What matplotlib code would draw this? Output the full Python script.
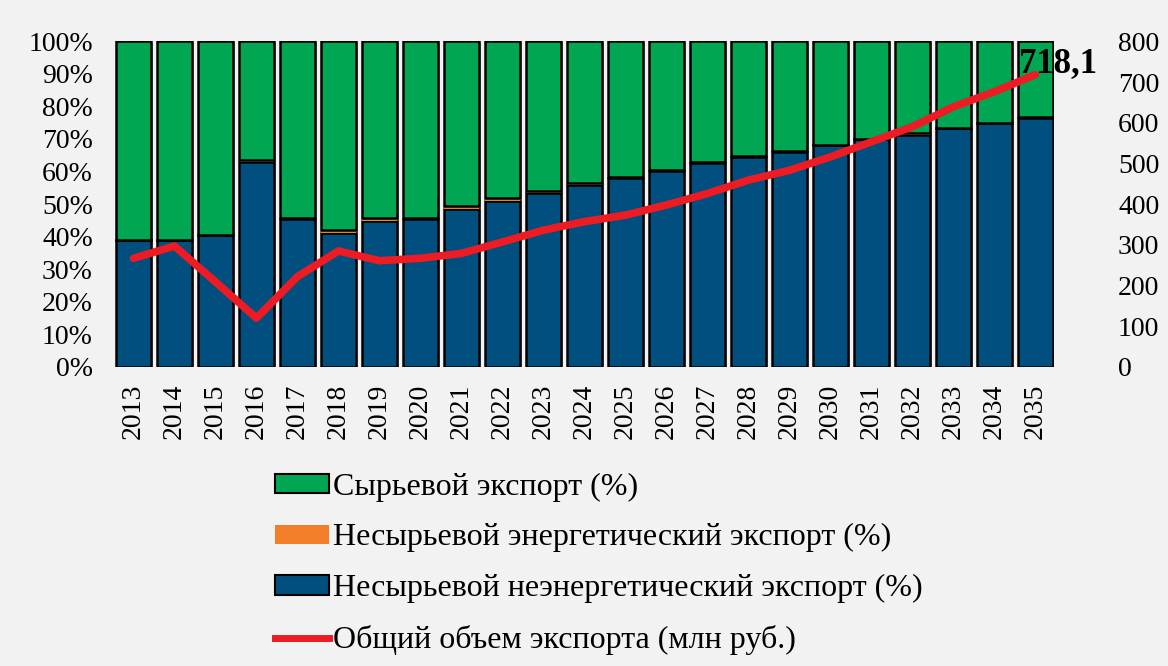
import matplotlib.pyplot as plt
from matplotlib.patches import Patch
from matplotlib.lines import Line2D
import numpy as np

years = [str(y) for y in range(2013, 2036)]
# Несырьевой неэнергетический экспорт, %
non_energy = [39.0, 39.0, 40.5, 63.0, 45.5, 41.2, 44.8, 45.5, 48.6, 50.9, 53.3, 55.8,
              57.9, 60.3, 62.6, 64.6, 66.1, 68.2, 70.0, 71.3, 73.3, 74.8, 76.5]
# Несырьевой энергетический экспорт, %
energy = [0.1, 0.1, 0.1, 0.4, 0.2, 0.8, 1.0, 0.3, 0.8, 0.9, 0.8, 0.7,
          0.3, 0.3, 0.2, 0.2, 0.2, 0.1, 0.1, 0.6, 0.1, 0.1, 0.1]
# Сырьевой экспорт, % (остаток до 100)
raw = [100 - a - b for a, b in zip(non_energy, energy)]
# Общий объем экспорта, млн руб.
total = [267, 297, 209, 120, 222, 285, 261, 267, 279, 307, 336, 357,
         373, 398, 426, 459, 483, 516, 553, 590, 639, 676, 718.1]

GREEN = '#00a651'
ORANGE = '#f47f2a'
BLUE = '#004f7f'
RED = '#ed1c24'
BG = '#f2f2f2'
serif = ['Liberation Serif', 'DejaVu Serif']

fig = plt.figure(figsize=(11.68, 6.66), dpi=100, facecolor=BG)
ax = fig.add_axes([0.0985, 0.449, 0.804, 0.489], facecolor=BG)
x = np.arange(len(years))
w = 0.85

# shadow under bars
ax.bar(x + 0.06, 100, width=w, bottom=-0.6, color='#a0a0a0', zorder=1)
ax.bar(x, non_energy, width=w, color=BLUE, edgecolor='black', linewidth=1.8, zorder=2)
ax.bar(x, energy, width=w, bottom=non_energy, color=ORANGE, linewidth=0, zorder=2)
bottom2 = [a + b for a, b in zip(non_energy, energy)]
ax.bar(x, raw, width=w, bottom=bottom2, color=GREEN, edgecolor='black', linewidth=1.8, zorder=2)

ax.set_xlim(-0.45, len(years) - 0.54)
ax.set_ylim(0, 100)
ax.set_yticks(range(0, 101, 10))
ax.set_yticklabels([f'{v}%' for v in range(0, 101, 10)], fontfamily=serif, fontsize=20)
ax.set_xticks(x)
ax.set_xticklabels(years, rotation=90, fontfamily=serif, fontsize=20)
ax.tick_params(axis='y', length=0, pad=16)
ax.tick_params(axis='x', length=0, pad=12)
for s in ax.spines.values():
    s.set_visible(False)

ax2 = ax.twinx()
ax2.plot(x, total, color=RED, linewidth=5.5, solid_capstyle='round', solid_joinstyle='round', zorder=5)
ax2.set_ylim(0, 800)
ax2.set_yticks(range(0, 801, 100))
ax2.set_yticklabels([str(v) for v in range(0, 801, 100)], fontfamily=serif, fontsize=20)
ax2.tick_params(axis='y', length=0, pad=46)
for s in ax2.spines.values():
    s.set_visible(False)
ax2.annotate('718,1', (x[-1], total[-1]), xytext=(-12, -4), textcoords='offset points',
             fontfamily=serif, fontsize=25, fontweight='bold', ha='left', va='bottom')

handles = [
    Patch(facecolor=GREEN, edgecolor='black', linewidth=1.5),
    Patch(facecolor=ORANGE, edgecolor='none'),
    Patch(facecolor=BLUE, edgecolor='black', linewidth=1.5),
    Line2D([], [], color=RED, linewidth=5),
]
labels = ['Сырьевой экспорт (%)', 'Несырьевой энергетический экспорт (%)',
          'Несырьевой неэнергетический экспорт (%)', 'Общий объем экспорта (млн руб.)']
fig.legend(handles, labels, loc='upper left', bbox_to_anchor=(0.2355, 0.2905), frameon=False,
           prop={'family': serif, 'size': 23}, handlelength=1.7, handleheight=0.55,
           handletextpad=0.12, labelspacing=0.68, borderaxespad=0, borderpad=0)

fig.savefig('out.png', dpi=100, facecolor=BG)
